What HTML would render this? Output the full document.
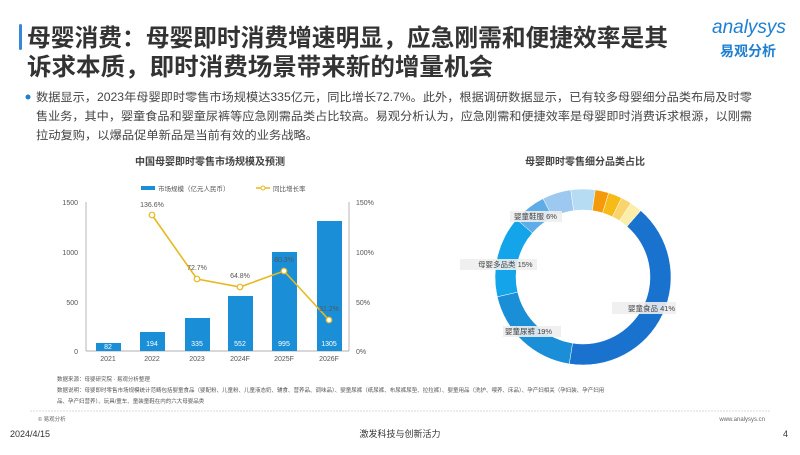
<!DOCTYPE html>
<html><head><meta charset="utf-8"><style>
body{margin:0;width:800px;height:450px;background:#fff;overflow:hidden;font-family:"Liberation Sans","Noto Sans CJK SC",sans-serif;}
</style></head><body>
<svg width="800" height="450" viewBox="0 0 800 450" xmlns="http://www.w3.org/2000/svg" font-family="Liberation Sans, Noto Sans CJK SC, sans-serif">
<rect x="19" y="24" width="3" height="26" rx="1.5" fill="#3a86d8"/>
<text x="27" y="46" font-size="24" font-weight="bold" fill="#333" textLength="641" lengthAdjust="spacingAndGlyphs">母婴消费：母婴即时消费增速明显，应急刚需和便捷效率是其</text>
<text x="27" y="75" font-size="24" font-weight="bold" fill="#333" textLength="466" lengthAdjust="spacingAndGlyphs">诉求本质，即时消费场景带来新的增量机会</text>
<text x="712" y="33" font-size="19" font-style="italic" fill="#1f7fd0">analysys</text>
<text x="720" y="56" font-size="14" font-weight="bold" fill="#1f7fd0">易观分析</text>
<circle cx="28" cy="97" r="2.5" fill="#1f7fd0"/>
<g font-size="11.5" fill="#444">
<text x="36" y="101" textLength="716" lengthAdjust="spacingAndGlyphs">数据显示，2023年母婴即时零售市场规模达335亿元，同比增长72.7%。此外，根据调研数据显示，已有较多母婴细分品类布局及时零</text>
<text x="36" y="120" textLength="716" lengthAdjust="spacingAndGlyphs">售业务，其中，婴童食品和婴童尿裤等应急刚需品类占比较高。易观分析认为，应急刚需和便捷效率是母婴即时消费诉求根源，以刚需</text>
<text x="36" y="139" textLength="282" lengthAdjust="spacingAndGlyphs">拉动复购，以爆品促单新品是当前有效的业务战略。</text>
</g>
<text x="210" y="165" font-size="10" font-weight="bold" fill="#444" text-anchor="middle">中国母婴即时零售市场规模及预测</text>
<rect x="141" y="186" width="14" height="4" fill="#1a8fd8"/>
<text x="158" y="191" font-size="6.5" fill="#555">市场规模（亿元人民币）</text>
<line x1="256" y1="188" x2="270" y2="188" stroke="#e8b820" stroke-width="1.5"/>
<circle cx="263" cy="188" r="2" fill="#fff" stroke="#e8b820"/>
<text x="273" y="191" font-size="6.5" fill="#555">同比增长率</text>
<g font-size="7" fill="#555">
<text x="78" y="205" text-anchor="end">1500</text><text x="78" y="255" text-anchor="end">1000</text><text x="78" y="305" text-anchor="end">500</text><text x="78" y="354" text-anchor="end">0</text>
<text x="356" y="205">150%</text><text x="356" y="255">100%</text><text x="356" y="305">50%</text><text x="356" y="354">0%</text>
</g>
<line x1="86" y1="202" x2="86" y2="351" stroke="#999" stroke-width="0.7"/>
<line x1="349" y1="202" x2="349" y2="351" stroke="#999" stroke-width="0.7"/>
<line x1="86" y1="351" x2="349" y2="351" stroke="#999" stroke-width="0.7"/>
<g fill="#1a8fd8">
<rect x="96" y="343" width="25" height="8"/><rect x="140" y="332" width="25" height="19"/><rect x="185" y="318" width="25" height="33"/>
<rect x="228" y="296" width="25" height="55"/><rect x="272" y="252" width="25" height="99"/><rect x="317" y="221" width="25" height="130"/>
</g>
<g font-size="7" fill="#fff" text-anchor="middle">
<text x="108" y="349">82</text><text x="152" y="346">194</text><text x="197" y="346">335</text><text x="240" y="346">552</text><text x="284" y="346">995</text><text x="329" y="346">1305</text>
</g>
<g font-size="7" fill="#555" text-anchor="middle">
<text x="108" y="361">2021</text><text x="152" y="361">2022</text><text x="197" y="361">2023</text><text x="240" y="361">2024F</text><text x="284" y="361">2025F</text><text x="329" y="361">2026F</text>
</g>
<polyline points="152,215 197,279 240,287 284,271 329,320" fill="none" stroke="#e8b820" stroke-width="1.6"/>
<g fill="#fff" stroke="#e8b820" stroke-width="1.2">
<circle cx="152" cy="215" r="2.8"/><circle cx="197" cy="279" r="2.8"/><circle cx="240" cy="287" r="2.8"/><circle cx="284" cy="271" r="2.8"/><circle cx="329" cy="320" r="2.8"/>
</g>
<g font-size="7" fill="#555" text-anchor="middle">
<text x="152" y="207">136.6%</text><text x="197" y="270">72.7%</text><text x="240" y="278">64.8%</text><text x="284" y="262">80.3%</text><text x="329" y="311">31.2%</text>
</g>
<g font-size="5.5" fill="#555">
<text x="57" y="381">数据来源：母婴研究院 · 易观分析整理</text>
<text x="57" y="392">数据说明：母婴即时零售市场规模统计范畴包括婴童食品（婴配粉、儿童粉、儿童液态奶、辅食、营养品、调味品）、婴童尿裤（纸尿裤、布尿裤尿垫、拉拉裤）、婴童用品（洗护、喂养、床品）、孕产妇相关（孕妇装、孕产妇用</text>
<text x="57" y="403">品、孕产妇营养）、玩具/童车、童装童鞋在内的六大母婴品类</text>
</g>
<text x="585" y="165" font-size="10" font-weight="bold" fill="#444" text-anchor="middle">母婴即时零售细分品类占比</text>
<g id="donut"></g>
<line x1="30" y1="411" x2="770" y2="411" stroke="#ccc" stroke-width="0.8" stroke-dasharray="2,1"/>
<text x="38" y="421" font-size="5.5" fill="#666">© 易观分析</text>
<text x="765" y="421" font-size="6" fill="#666" text-anchor="end">www.analysys.cn</text>
<text x="10" y="437" font-size="9" fill="#333">2024/4/15</text>
<text x="400" y="437" font-size="9" fill="#333" text-anchor="middle">激发科技与创新活力</text>
<text x="783" y="437" font-size="9" fill="#333">4</text>
<script>
(function(){
var cx=583,cy=277,R=88,r=67,g=document.getElementById('donut');
var segs=[[41,189,'#1a72cf'],[189,257,'#1a8ed6'],[257,311,'#13a4ea'],[311,333,'#5eace8'],[333,352,'#9dc9f0'],[352,368,'#b6dcf4'],[368,377,'#f59a0a'],[377,386,'#f7bb18'],[386,393,'#f9d36c'],[393,401,'#fbeeaa']];
function p(a,rad){a=(a-90)*Math.PI/180;return [cx+rad*Math.cos(a),cy+rad*Math.sin(a)];}
segs.forEach(function(s){var a0=s[0],a1=s[1],l=(a1-a0)>180?1:0;var A=p(a0,R),B=p(a1,R),C=p(a1,r),D=p(a0,r);
var e=document.createElementNS('http://www.w3.org/2000/svg','path');
e.setAttribute('d','M'+A+'A'+R+','+R+' 0 '+l+' 1 '+B+'L'+C+'A'+r+','+r+' 0 '+l+' 0 '+D+'Z');
e.setAttribute('fill',s[2]);e.setAttribute('stroke','#fff');e.setAttribute('stroke-width','0.5');g.appendChild(e);});
})();
</script>
<g font-size="7.5" fill="#444">
<rect x="510" y="211" width="52" height="11" fill="#eee" opacity="0.9"/><text x="514" y="219">婴童鞋服 6%</text>
<rect x="460" y="259" width="77" height="11" fill="#eee" opacity="0.9"/><text x="478" y="267">母婴多品类 15%</text>
<rect x="612" y="302" width="64" height="12" fill="#eee" opacity="0.9"/><text x="628" y="311">婴童食品 41%</text>
<rect x="503" y="326" width="58" height="11" fill="#eee" opacity="0.9"/><text x="505" y="334">婴童尿裤 19%</text>
</g>
</svg>
</body></html>
